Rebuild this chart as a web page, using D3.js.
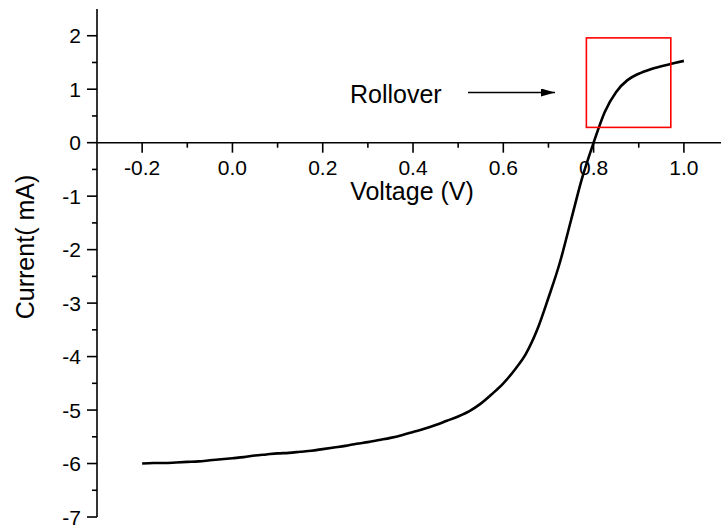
<!DOCTYPE html>
<html>
<head>
<meta charset="utf-8">
<script src="https://cdn.jsdelivr.net/npm/d3@7"></script>
<style>
  html, body { margin: 0; padding: 0; background: #fff; }
  svg { display: block; }
  text { font-family: "Liberation Sans", Arial, sans-serif; fill: #000; }
</style>
</head>
<body>
<svg id="chart" width="721" height="527"></svg>
<script>
// Measured I-V sweep
const voltage = [
  -0.2, -0.175, -0.15, -0.125, -0.1, -0.075, -0.05, -0.025,
  0.0, 0.025, 0.05, 0.075, 0.1, 0.125, 0.15, 0.175,
  0.2, 0.225, 0.25, 0.275, 0.3, 0.325, 0.35, 0.375,
  0.4, 0.425, 0.45, 0.475, 0.5, 0.525, 0.55, 0.575,
  0.6, 0.625, 0.65, 0.675, 0.7, 0.725, 0.75, 0.775,
  0.8, 0.825, 0.85, 0.875, 0.9, 0.925, 0.95, 0.975, 1.0
];
const current = [
  -6.00, -5.99, -5.99, -5.98, -5.97, -5.96, -5.94, -5.92,
  -5.90, -5.88, -5.85, -5.83, -5.81, -5.80, -5.78, -5.76,
  -5.73, -5.70, -5.67, -5.63, -5.60, -5.56, -5.52, -5.47,
  -5.41, -5.35, -5.28, -5.20, -5.12, -5.02, -4.88, -4.70,
  -4.50, -4.25, -3.95, -3.50, -2.90, -2.25, -1.45, -0.65,
  0.00, 0.58, 0.95, 1.17, 1.29, 1.37, 1.43, 1.48, 1.53
];

// Axis ticks
const xTicks = [-0.2, 0.0, 0.2, 0.4, 0.6, 0.8, 1.0];
const xMinorTicks = [-0.1, 0.1, 0.3, 0.5, 0.7, 0.9];
const yTicks = [-7, -6, -5, -4, -3, -2, -1, 0, 1, 2];
const yMinorTicks = [-6.5, -5.5, -4.5, -3.5, -2.5, -1.5, -0.5, 0.5, 1.5];

// Rollover region (voltage / current corners) and annotation
const rolloverBox = { v0: 0.784, v1: 0.971, i0: 0.286, i1: 1.96 };
const rolloverLabel = "Rollover";

const svg = d3.select("#chart");

const x = d3.scaleLinear().domain([-0.3, 1.0822]).range([97, 721]);
const y = d3.scaleLinear().domain([-7, 2.5]).range([517, 9]);

const TICK_FONT = 21;
const TITLE_FONT = 25;

// Y axis (left spine with outward ticks)
const yAxis = svg.append("g").attr("transform", `translate(${x(-0.3)},0)`);
yAxis.append("line")
  .attr("x1", 0).attr("x2", 0).attr("y1", y(2.5)).attr("y2", y(-7))
  .attr("stroke", "#000").attr("stroke-width", 1.6);
yAxis.selectAll(".ymaj").data(yTicks).join("line")
  .attr("class", "ymaj")
  .attr("x1", -10).attr("x2", 0)
  .attr("y1", d => y(d)).attr("y2", d => y(d))
  .attr("stroke", "#000").attr("stroke-width", 1.6);
yAxis.selectAll(".ymin").data(yMinorTicks).join("line")
  .attr("class", "ymin")
  .attr("x1", -5).attr("x2", 0)
  .attr("y1", d => y(d)).attr("y2", d => y(d))
  .attr("stroke", "#000").attr("stroke-width", 1.6);
yAxis.selectAll(".ylab").data(yTicks).join("text")
  .attr("class", "ylab")
  .attr("x", -16).attr("y", d => y(d))
  .attr("dy", "0.36em")
  .attr("text-anchor", "end")
  .attr("font-size", TICK_FONT)
  .text(d => d);

// X axis along I = 0 with downward ticks
const xAxis = svg.append("g").attr("transform", `translate(0,${y(0)})`);
xAxis.append("line")
  .attr("x1", x(-0.3)).attr("x2", 721).attr("y1", 0).attr("y2", 0)
  .attr("stroke", "#000").attr("stroke-width", 1.6);
xAxis.selectAll(".xmaj").data(xTicks).join("line")
  .attr("class", "xmaj")
  .attr("x1", d => x(d)).attr("x2", d => x(d))
  .attr("y1", 0).attr("y2", 10)
  .attr("stroke", "#000").attr("stroke-width", 1.6);
xAxis.selectAll(".xmin").data(xMinorTicks).join("line")
  .attr("class", "xmin")
  .attr("x1", d => x(d)).attr("x2", d => x(d))
  .attr("y1", 0).attr("y2", 5)
  .attr("stroke", "#000").attr("stroke-width", 1.6);
xAxis.selectAll(".xlab").data(xTicks).join("text")
  .attr("class", "xlab")
  .attr("x", d => x(d)).attr("y", 32)
  .attr("text-anchor", "middle")
  .attr("font-size", TICK_FONT)
  .text(d => d3.format(".1f")(d).replace("−", "-"));

// Axis titles
svg.append("text")
  .attr("x", 412).attr("y", 200)
  .attr("text-anchor", "middle")
  .attr("font-size", TITLE_FONT)
  .text("Voltage (V)");
svg.append("text")
  .attr("transform", "translate(34,247) rotate(-90)")
  .attr("text-anchor", "middle")
  .attr("font-size", TITLE_FONT)
  .text("Current( mA)");

// I-V curve
const pts = voltage.map((v, i) => [v, current[i]]);
svg.append("path")
  .datum(pts)
  .attr("fill", "none")
  .attr("stroke", "#000")
  .attr("stroke-width", 2.6)
  .attr("stroke-linejoin", "round")
  .attr("d", d3.line().x(d => x(d[0])).y(d => y(d[1])).curve(d3.curveMonotoneX));

// Rollover box
svg.append("rect")
  .attr("x", x(rolloverBox.v0))
  .attr("y", y(rolloverBox.i1))
  .attr("width", x(rolloverBox.v1) - x(rolloverBox.v0))
  .attr("height", y(rolloverBox.i0) - y(rolloverBox.i1))
  .attr("fill", "none")
  .attr("stroke", "#ff0000")
  .attr("stroke-width", 1.6);

// Annotation text and arrow
svg.append("text")
  .attr("x", 350).attr("y", 102.5)
  .attr("font-size", 25)
  .text(rolloverLabel);
svg.append("defs").append("marker")
  .attr("id", "arrowhead")
  .attr("viewBox", "0 0 14 8")
  .attr("refX", 14).attr("refY", 4)
  .attr("markerWidth", 14).attr("markerHeight", 8)
  .attr("markerUnits", "userSpaceOnUse")
  .attr("orient", "auto")
  .append("path").attr("d", "M0,0 L14,4 L0,8 Z").attr("fill", "#000");
svg.append("line")
  .attr("x1", 468).attr("x2", 555).attr("y1", 92.5).attr("y2", 92.5)
  .attr("stroke", "#000").attr("stroke-width", 1.6)
  .attr("marker-end", "url(#arrowhead)");
</script>
</body>
</html>
